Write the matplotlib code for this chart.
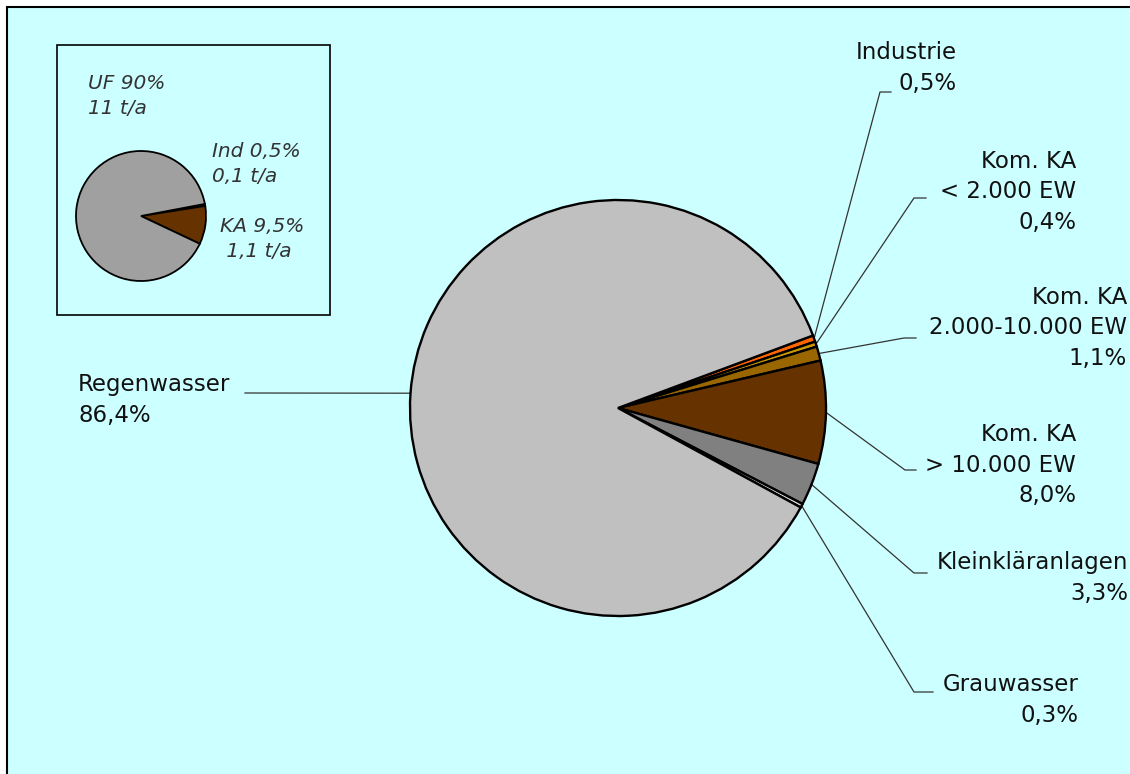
import numpy as np
import matplotlib
matplotlib.use("Agg")
import matplotlib.pyplot as plt
from matplotlib.patches import Rectangle

# main pie: share of load per source (%)
labels = ["Industrie", "Kom. KA\n< 2.000 EW", "Kom. KA\n2.000-10.000 EW",
          "Kom. KA\n> 10.000 EW", "Kleinkläranlagen", "Grauwasser", "Regenwasser"]
shares = [0.5, 0.4, 1.1, 8.0, 3.3, 0.3, 86.4]
share_text = ["0,5%", "0,4%", "1,1%", "8,0%", "3,3%", "0,3%", "86,4%"]
colors = ["#FF6600", "#CC9900", "#996600", "#663300", "#808080", "#DDDDDD", "#C0C0C0"]

# inset pie
inset_labels = ["Ind 0,5%\n0,1 t/a", "KA 9,5%\n 1,1 t/a", "UF 90%\n11 t/a"]
inset_shares = [0.5, 9.5, 90.0]
inset_colors = ["#000000", "#663300", "#A0A0A0"]

W, H = 1130, 774
BG = "#CCFFFF"
FONT = "DejaVu Sans"

fig = plt.figure(figsize=(W / 100, H / 100), dpi=100)
fig.patch.set_facecolor("white")

# overlay axes in pixel coordinates (y downwards)
ov = fig.add_axes([0, 0, 1, 1])
ov.set_xlim(0, W)
ov.set_ylim(H, 0)
ov.axis("off")
ov.add_patch(Rectangle((7, 7), W + 20, H + 20, facecolor=BG, edgecolor="black", lw=1.5))
ov.add_patch(Rectangle((57, 45), 273, 270, facecolor=BG, edgecolor="black", lw=1.2))


def pie_axes(cx, cy, r):
    ax = fig.add_axes([(cx - r) / W, (H - cy - r) / H, 2 * r / W, 2 * r / H])
    ax.axis("off")
    return ax


# main pie
cx, cy, r = 618, 408, 208
ax = pie_axes(cx, cy, r)
wedges, _ = ax.pie(shares, colors=colors, startangle=20.4, counterclock=False, radius=1,
                   wedgeprops=dict(edgecolor="black", linewidth=1.7))
ax.set_xlim(-1, 1)
ax.set_ylim(-1, 1)

# label text: (x, y-centre, alignment) and leader elbow / stub end
label_pos = [(957, 68, "right"), (1076, 192, "right"), (1127, 328, "right"),
             (1076, 465, "right"), (1128, 578, "right"), (1079, 700, "right"),
             (78, 400, "left")]
elbows = [(880, 92, 891), (914, 198, 926), (904, 338, 916), (905, 470, 916),
          (914, 573, 927), (914, 692, 933), (245, 393, 245)]

for w, lab, pct, (tx, ty, ha), (ex, ey, sx) in zip(wedges, labels, share_text, label_pos, elbows):
    mid = np.deg2rad((w.theta1 + w.theta2) / 2)
    px, py = cx + r * np.cos(mid), cy - r * np.sin(mid)
    ov.plot([px, ex, sx], [py, ey, ey], color="#333333", lw=0.9, zorder=3)
    ov.text(tx, ty, f"{lab}\n{pct}", ha=ha, va="center", multialignment=ha,
            fontsize=16.5, family=FONT, color="#111111", linespacing=1.4, zorder=4)

# inset pie
ax2 = pie_axes(141, 216, 65)
ax2.pie(inset_shares, colors=inset_colors, startangle=10.7, counterclock=False, radius=1,
        wedgeprops=dict(edgecolor="black", linewidth=1.3))
ax2.set_xlim(-1, 1)
ax2.set_ylim(-1, 1)

inset_pos = [(212, 164), (220, 239), (88, 96)]
for lab, (tx, ty) in zip(inset_labels, inset_pos):
    ov.text(tx, ty, lab, ha="left", va="center", fontsize=14.5, style="italic",
            family=FONT, color="#333333", linespacing=1.45)

fig.savefig("out.png", dpi=100)
